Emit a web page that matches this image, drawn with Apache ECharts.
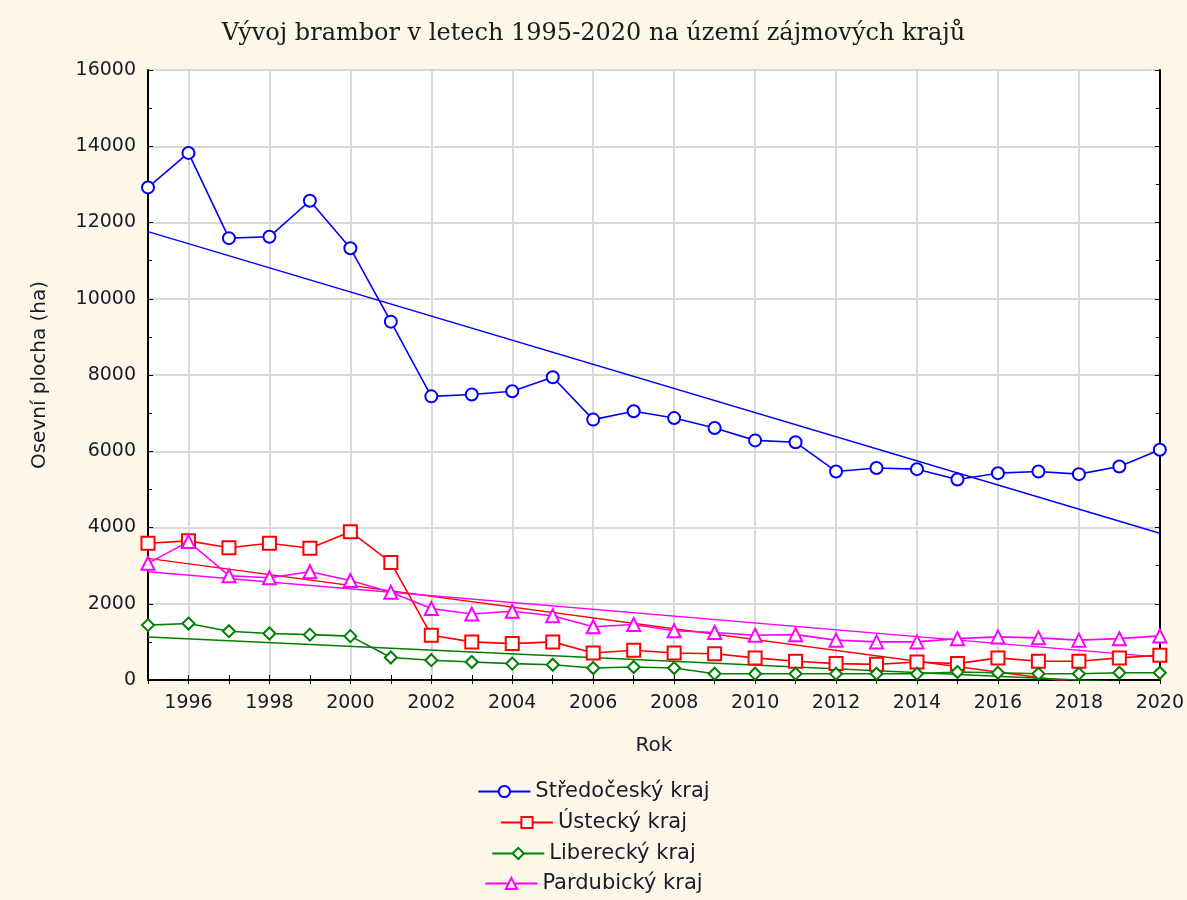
<!DOCTYPE html>
<html style="height: 100%">
<head>
    <meta charset="utf-8">
</head>
<body style="height: 100%; margin: 0; background-color: #fdf7ea;">
<div id="container" style="width: 1187px; height: 900px"></div>
<script type="text/javascript" src="https://cdn.jsdelivr.net/npm/echarts@6/dist/echarts.min.js"></script>
<script type="text/javascript">
    var years = ['1995', '1996', '1997', '1998', '1999', '2000', '2001', '2002', '2003', '2004', '2005', '2006', '2007',
        '2008', '2009', '2010', '2011', '2012', '2013', '2014', '2015', '2016', '2017', '2018', '2019', '2020'];

    var stredocesky = [12920, 13825, 11590, 11625, 12570, 11325, 9400, 7440, 7490, 7575, 7940, 6830, 7050,
        6870, 6610, 6285, 6235, 5470, 5560, 5530, 5260, 5425, 5470, 5400, 5600, 6040];
    var ustecky = [3585, 3650, 3470, 3585, 3455, 3890, 3085, 1175, 1000, 955, 1000, 710, 780,
        710, 690, 580, 490, 430, 410, 473, 430, 580, 490, 490, 580, 650];
    var liberecky = [1440, 1480, 1280, 1220, 1190, 1150, 590, 520, 473, 430, 400, 315, 340,
        315, 165, 165, 165, 165, 165, 165, 210, 190, 165, 165, 190, 190];
    var pardubicky = [3060, 3630, 2735, 2680, 2840, 2610, 2300, 1875, 1730, 1805, 1685, 1395, 1455,
        1290, 1245, 1175, 1190, 1045, 1000, 1000, 1085, 1130, 1105, 1045, 1085, 1157];

    // trend lines, values read at 1995 and 2020
    var trendStredocesky = [11760, 3850];
    var trendUstecky = [3190, -360];
    var trendLiberecky = [1130, -100];
    var trendPardubicky = [2840, 600];

    var names = ['Středočeský kraj', 'Ústecký kraj', 'Liberecký kraj', 'Pardubický kraj'];
    var colors = ['#0000ff', '#ff0000', '#008000', '#ff00ff'];
    var symbols = ['emptyCircle', 'emptyRect', 'emptyDiamond', 'emptyTriangle'];
    var symbolSizes = [12, 13, 12, 13];
    var values = [stredocesky, ustecky, liberecky, pardubicky];
    var trends = [trendStredocesky, trendUstecky, trendLiberecky, trendPardubicky];

    var evenYear = function (index, value) {
        return parseInt(value, 10) % 2 === 0;
    };

    var series = [];
    var legends = [];
    var legendTops = [776, 807, 838, 868];
    names.forEach(function (name, i) {
        series.push({
            name: name + ' trend',
            type: 'line',
            data: [[years[0], trends[i][0]], [years[years.length - 1], trends[i][1]]],
            symbol: 'none',
            clip: true,
            lineStyle: {color: colors[i], width: 1.5},
            itemStyle: {color: colors[i]},
            silent: true,
            z: 2
        });
        series.push({
            name: name,
            type: 'line',
            data: values[i],
            symbol: symbols[i],
            symbolSize: symbolSizes[i],
            lineStyle: {color: colors[i], width: 1.6},
            itemStyle: {color: colors[i], borderColor: colors[i], borderWidth: 1.6},
            z: 3
        });
        legends.push({
            data: [name],
            left: 'center',
            top: legendTops[i],
            itemWidth: 52,
            itemHeight: 14,
            itemGap: 4,
            textStyle: {fontFamily: 'DejaVu Sans', fontSize: 21, color: '#1a1a2a'}
        });
    });

    var dom = document.getElementById('container');
    var myChart = echarts.init(dom);

    var option = {
        backgroundColor: '#fdf7ea',
        animation: false,
        title: {
            text: 'Vývoj brambor v letech 1995-2020 na území zájmových krajů',
            left: 'center',
            top: 17,
            textStyle: {fontFamily: 'DejaVu Serif', fontWeight: 'normal', fontSize: 24, color: '#1a1a1a'}
        },
        legend: legends,
        grid: {
            left: 148,
            right: 22,
            top: 70,
            bottom: 220,
            show: true,
            backgroundColor: '#ffffff',
            borderColor: '#000',
            borderWidth: 0
        },
        xAxis: [{
            type: 'category',
            data: years,
            boundaryGap: false,
            name: 'Rok',
            nameLocation: 'middle',
            nameGap: 56,
            nameTextStyle: {fontFamily: 'DejaVu Sans', fontSize: 20, color: '#1a1a2a'},
            axisLine: {lineStyle: {color: '#000', width: 2}},
            axisTick: {show: true, inside: true, interval: 0, length: 5, lineStyle: {color: '#000'}},
            axisLabel: {
                interval: evenYear,
                fontFamily: 'DejaVu Sans',
                fontSize: 19,
                color: '#1a1a2a',
                margin: 14
            },
            splitLine: {show: true, interval: evenYear, lineStyle: {color: '#d9d9d9', width: 2}}
        }, {
            type: 'category',
            data: years,
            boundaryGap: false,
            position: 'top',
            axisLine: {lineStyle: {color: '#000', width: 2}},
            axisTick: {show: true, inside: true, interval: 0, length: 4, lineStyle: {color: '#000'}},
            axisLabel: {show: false},
            splitLine: {show: false}
        }],
        yAxis: [{
            type: 'value',
            min: 0,
            max: 16000,
            interval: 2000,
            name: 'Osevní plocha (ha)',
            nameLocation: 'middle',
            nameGap: 98,
            nameTextStyle: {fontFamily: 'DejaVu Sans', fontSize: 20, color: '#1a1a2a'},
            axisLine: {show: true, lineStyle: {color: '#000', width: 2}},
            axisTick: {show: true, inside: true, length: 5, lineStyle: {color: '#000'}},
            minorTick: {show: true, splitNumber: 2, length: 4, lineStyle: {color: '#000'}},
            axisLabel: {
                fontFamily: 'DejaVu Sans',
                fontSize: 19,
                color: '#1a1a2a',
                margin: 12,
                formatter: function (v) { return String(v); }
            },
            splitLine: {show: true, lineStyle: {color: '#d9d9d9', width: 2}}
        }, {
            type: 'value',
            min: 0,
            max: 16000,
            interval: 2000,
            position: 'right',
            axisLine: {show: true, lineStyle: {color: '#000', width: 2}},
            axisTick: {show: true, inside: true, length: 5, lineStyle: {color: '#000'}},
            minorTick: {show: true, splitNumber: 2, length: 4, lineStyle: {color: '#000'}},
            axisLabel: {show: false},
            splitLine: {show: false}
        }],
        series: series
    };

    myChart.setOption(option);
</script>
</body>
</html>
